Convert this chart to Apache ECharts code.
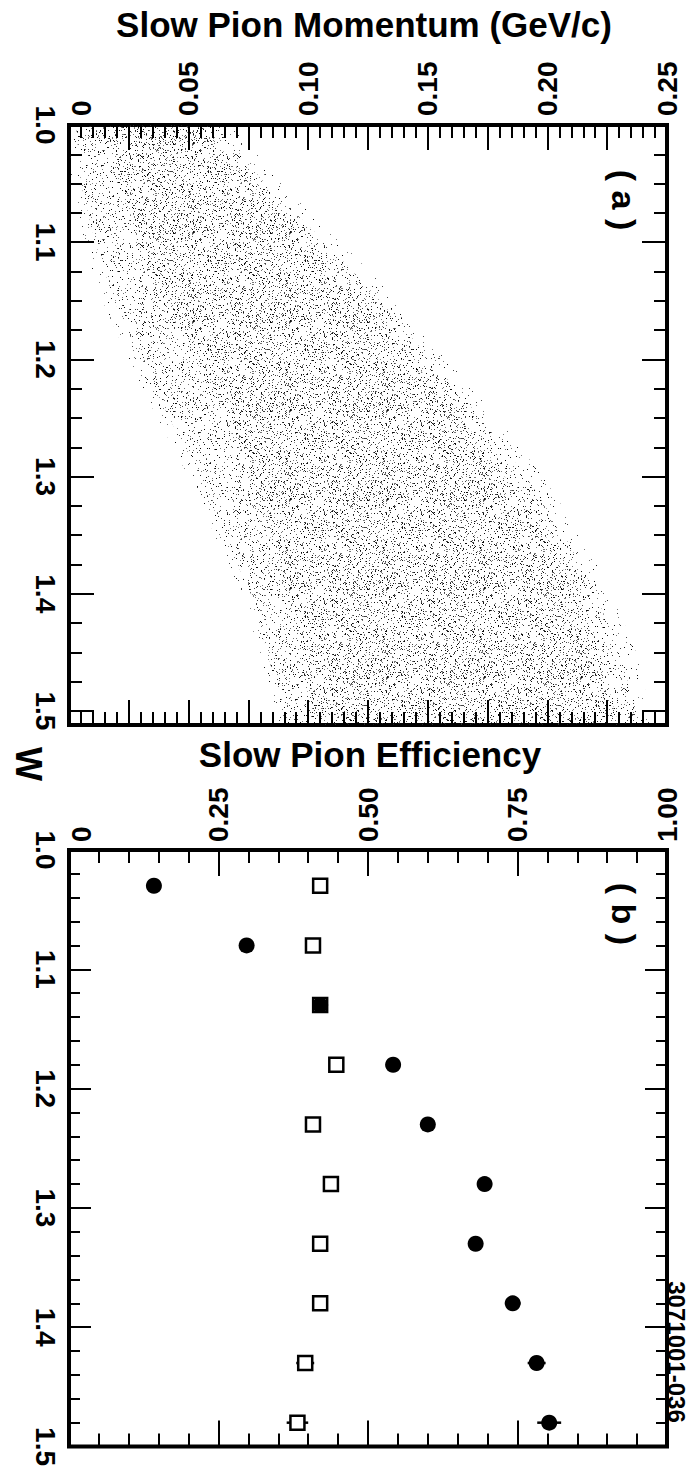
<!DOCTYPE html>
<html>
<head>
<meta charset="utf-8">
<script src="https://cdn.jsdelivr.net/npm/echarts@6/dist/echarts.min.js"></script>
<style>
html,body{margin:0;padding:0;background:#fff;}
#c{width:689px;height:1469px;}
</style>
</head>
<body>
<div id="c"></div>
<script>
// ---------- Panel (a): slow pion momentum vs W (band edges) ----------
const bandW    = [1.00, 1.05, 1.10, 1.15, 1.20, 1.25, 1.30, 1.35, 1.40, 1.45, 1.50, 1.512];
const fringeLo = [0.000, 0.001, 0.006, 0.014, 0.025, 0.037, 0.050, 0.061, 0.072, 0.080, 0.086, 0.087];
const fringeHi = [0.068, 0.089, 0.114, 0.137, 0.158, 0.179, 0.198, 0.214, 0.227, 0.237, 0.243, 0.244];
const outerLo  = [0.003, 0.005, 0.011, 0.019, 0.030, 0.042, 0.055, 0.065, 0.076, 0.083, 0.089, 0.090];
const outerHi  = [0.061, 0.082, 0.107, 0.130, 0.151, 0.172, 0.191, 0.207, 0.220, 0.230, 0.237, 0.238];
const innerLo  = [0.017, 0.021, 0.030, 0.040, 0.053, 0.065, 0.076, 0.084, 0.092, 0.097, 0.101, 0.102];
const innerHi  = [0.055, 0.076, 0.099, 0.122, 0.143, 0.164, 0.182, 0.199, 0.212, 0.222, 0.228, 0.230];

// ---------- Panel (b): slow pion efficiency vs W ----------
const effW        = [1.03, 1.08, 1.13, 1.18, 1.23, 1.28, 1.33, 1.38, 1.43, 1.48];
const effCircle   = [0.142, 0.297, 0.420, 0.542, 0.600, 0.695, 0.680, 0.742, 0.782, 0.803];
const errCircle   = [0.010, 0.012, 0.012, 0.012, 0.012, 0.012, 0.012, 0.013, 0.015, 0.020];
const effSquare   = [0.420, 0.408, 0.420, 0.447, 0.408, 0.438, 0.420, 0.420, 0.395, 0.382];
const errSquare   = [0.012, 0.012, 0.012, 0.012, 0.012, 0.012, 0.012, 0.012, 0.015, 0.018];

// ---------- Tick labels ----------
const momTicks  = [0, 0.05, 0.10, 0.15, 0.20, 0.25];
const momLabels = ['0', '0.05', '0.10', '0.15', '0.20', '0.25'];
const effTicks  = [0, 0.25, 0.50, 0.75, 1.00];
const effLabels = ['0', '0.25', '0.50', '0.75', '1.00'];
const wTicks    = [1.0, 1.1, 1.2, 1.3, 1.4, 1.5];
const wLabels   = ['1.0', '1.1', '1.2', '1.3', '1.4', '1.5'];

const FONT = '"Liberation Sans", Arial, Helvetica, sans-serif';
const LBL = { color: '#000', fontSize: 28, fontWeight: 'bold', fontFamily: FONT };

function fmtFrom(ticks, labels) {
  return function (v) {
    const i = ticks.findIndex(t => Math.abs(t - v) < 1e-6);
    if (i < 0) return '';
    return i === 0 ? '{z|' + labels[i] + '}' : labels[i];
  };
}

// stipple texture (style only) for the scatter band
function stipple(seed, count) {
  const W = 97, H = 89;
  const cv = document.createElement('canvas');
  cv.width = W; cv.height = H;
  const ctx = cv.getContext('2d');
  function hash(n) {
    n = (n ^ 61) ^ (n >>> 16);
    n = n + (n << 3);
    n = n ^ (n >>> 4);
    n = Math.imul(n, 0x27d4eb2d);
    n = n ^ (n >>> 15);
    return n >>> 0;
  }
  for (let k = 0; k < count; k++) {
    const x = hash(seed * 100003 + 2 * k) % W;
    const y = hash(seed * 100003 + 2 * k + 1) % H;
    const g = hash(seed * 7 + k * 13) % 3;
    ctx.fillStyle = g === 0 ? 'rgba(0,0,0,0.95)' : (g === 1 ? 'rgba(30,30,30,0.85)' : 'rgba(60,60,60,0.7)');
    ctx.fillRect(x, y, 1, 1);
  }
  return { image: cv.toDataURL(), imageWidth: W, imageHeight: H, repeat: 'repeat' };
}
const patFringe = stipple(5, 170);
const patSparse = stipple(3, 520);
const patDense  = stipple(11, 480);

const TICK = { color: '#000', width: 2 };
function mkAxis(gridIndex, pos, min, max, interval, tickLen, labelFmt, margin, inverse, zeroPad) {
  return {
    type: 'value', gridIndex: gridIndex, position: pos,
    min: min, max: max, interval: interval, inverse: !!inverse,
    axisLine: { show: false, onZero: false },
    splitLine: { show: false },
    axisTick: tickLen ? { show: true, inside: true, length: tickLen, lineStyle: TICK } : { show: false },
    axisLabel: labelFmt ? Object.assign({
      show: true, rotate: -90, margin: margin, formatter: labelFmt,
      showMinLabel: true, showMaxLabel: true,
      rich: { z: Object.assign({ padding: [zeroPad || 0, 0, 0, 0] }, LBL) }
    }, LBL) : { show: false },
    z: 10
  };
}

const momFmt = fmtFrom(momTicks, momLabels);
const effFmt = fmtFrom(effTicks, effLabels);
const wFmt = fmtFrom(wTicks, wLabels);

const xAxis = [
  // panel (a)
  mkAxis(0, 'top', 0, 0.25, 0.05, 0, momFmt, 9, false, 24),
  mkAxis(0, 'top', 0, 0.25, 0.025, 25),
  mkAxis(0, 'top', 0, 0.25, 0.005, 13),
  mkAxis(0, 'bottom', 0, 0.25, 0.025, 25),
  mkAxis(0, 'bottom', 0, 0.25, 0.005, 13),
  // panel (b)
  mkAxis(1, 'top', 0, 1, 0.25, 26, effFmt, 8, false, 24),
  mkAxis(1, 'top', 0, 1, 0.05, 13),
  mkAxis(1, 'bottom', 0, 1, 0.25, 26),
  mkAxis(1, 'bottom', 0, 1, 0.05, 13)
];
const yAxis = [
  // panel (a)
  mkAxis(0, 'left', 1.0, 1.512, 0.1, 25, wFmt, 10, true, 0),
  mkAxis(0, 'left', 1.0, 1.512, 0.025, 13, null, 0, true),
  mkAxis(0, 'right', 1.0, 1.512, 0.1, 25, null, 0, true),
  mkAxis(0, 'right', 1.0, 1.512, 0.025, 13, null, 0, true),
  // panel (b)
  mkAxis(1, 'left', 1.0, 1.5, 0.1, 22, wFmt, 10, true, 0),
  mkAxis(1, 'left', 1.0, 1.5, 0.02, 11, null, 0, true),
  mkAxis(1, 'right', 1.0, 1.5, 0.1, 22, null, 0, true),
  mkAxis(1, 'right', 1.0, 1.5, 0.02, 11, null, 0, true)
];

function bandSeries(lo, hi, pat, z) {
  const data = [];
  for (let i = 0; i < bandW.length - 1; i++) {
    data.push([lo[i], bandW[i], hi[i], lo[i + 1], bandW[i + 1], hi[i + 1]]);
  }
  return {
    type: 'custom', xAxisIndex: 0, yAxisIndex: 0, z: z, clip: true, silent: true,
    encode: { x: [0, 2, 3, 5], y: [1, 4] },
    data: data,
    renderItem: function (params, api) {
      const p1 = api.coord([api.value(0), api.value(1)]);
      const p2 = api.coord([api.value(2), api.value(1)]);
      const p3 = api.coord([api.value(5), api.value(4)]);
      const p4 = api.coord([api.value(3), api.value(4)]);
      return { type: 'polygon', shape: { points: [p1, p2, p3, p4] }, style: { fill: pat, stroke: null } };
    }
  };
}

function errSeries(effs, errs, z) {
  return {
    type: 'custom', xAxisIndex: 5, yAxisIndex: 4, z: z, silent: true,
    data: effW.map((w, i) => [effs[i] - errs[i], w, effs[i] + errs[i]]),
    encode: { x: [0, 2], y: 1 },
    renderItem: function (params, api) {
      const a = api.coord([api.value(0), api.value(1)]);
      const b = api.coord([api.value(2), api.value(1)]);
      return { type: 'line', shape: { x1: a[0], y1: a[1], x2: b[0], y2: b[1] }, style: { stroke: '#000', lineWidth: 2.5 } };
    }
  };
}

function txt(s, x, y, size, rot) {
  return { type: 'text', x: x, y: y, rotation: rot || 0, z: 20,
    style: { text: s, font: 'bold ' + size + 'px ' + FONT, fill: '#000',
      align: 'center', verticalAlign: 'middle', textAlign: 'center', textVerticalAlign: 'middle' } };
}

const chart = echarts.init(document.getElementById('c'), null, { renderer: 'svg' });
chart.setOption({
  backgroundColor: '#fff',
  animation: false,
  grid: [
    { left: 69, top: 125, width: 598, height: 600, show: true, borderColor: '#000', borderWidth: 4, backgroundColor: 'transparent', containLabel: false },
    { left: 69, top: 850, width: 598, height: 600, show: true, borderColor: '#000', borderWidth: 4, backgroundColor: 'transparent', containLabel: false }
  ],
  xAxis: xAxis,
  yAxis: yAxis,
  series: [
    bandSeries(fringeLo, fringeHi, patFringe, 1),
    bandSeries(outerLo, outerHi, patSparse, 2),
    bandSeries(innerLo, innerHi, patDense, 3),
    errSeries(effSquare, errSquare, 3),
    errSeries(effCircle, errCircle, 3),
    {
      type: 'scatter', xAxisIndex: 5, yAxisIndex: 4, z: 4, silent: true,
      symbol: 'rect', symbolSize: 14,
      itemStyle: { color: '#fff', borderColor: '#000', borderWidth: 2.5, opacity: 1 },
      data: effW.map((w, i) => [effSquare[i], w])
    },
    {
      type: 'scatter', xAxisIndex: 5, yAxisIndex: 4, z: 5, silent: true,
      symbol: 'circle', symbolSize: 16,
      itemStyle: { color: '#000', opacity: 1 },
      data: effW.map((w, i) => [effCircle[i], w])
    }
  ],
  graphic: [
    txt('Slow Pion Momentum (GeV/c)', 364, 24, 35),
    txt('Slow Pion Efficiency', 370, 754, 35),
    txt('W', 28, 764, 36, -Math.PI / 2),
    txt('( a )', 624, 200, 34, -Math.PI / 2),
    txt('( b )', 624, 914, 34, -Math.PI / 2),
    txt('3071001-036', 676, 1352, 24, -Math.PI / 2)
  ]
});
</script>
</body>
</html>
